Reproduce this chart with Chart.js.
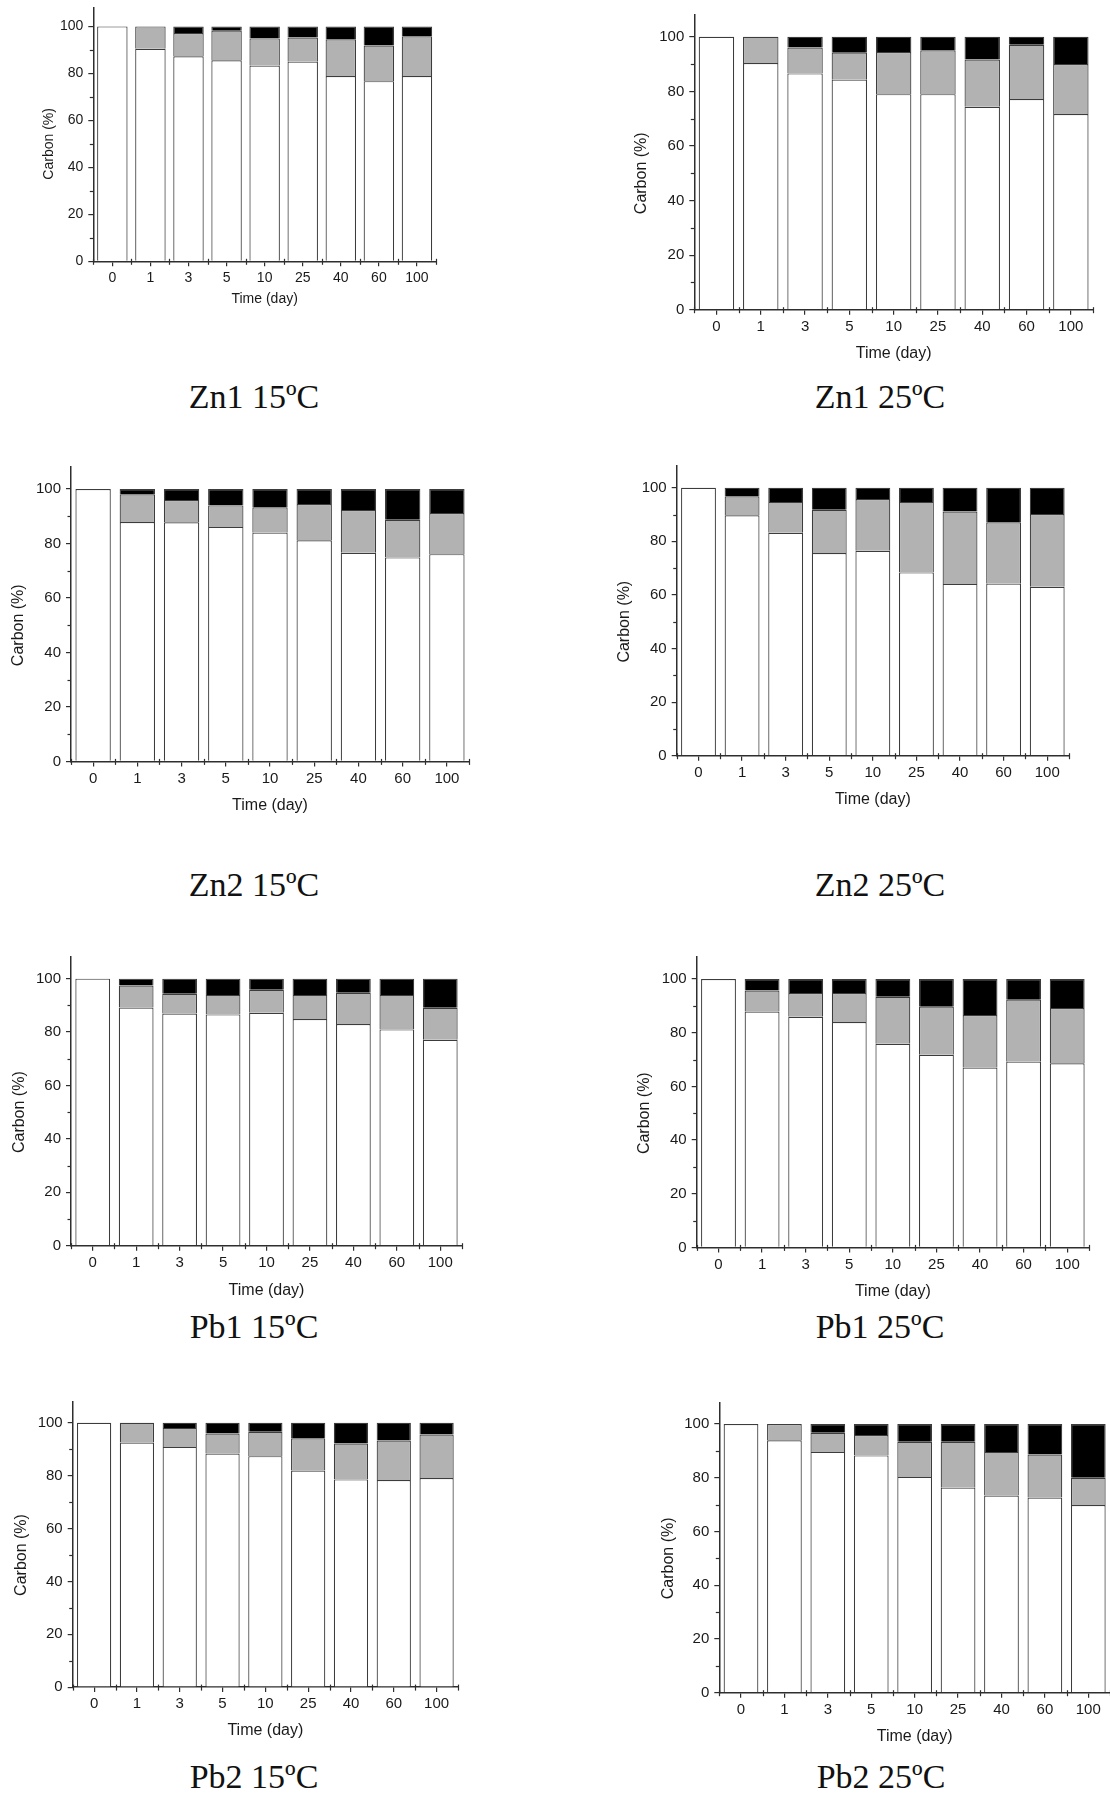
<!DOCTYPE html>
<html><head><meta charset="utf-8">
<script src="https://cdn.jsdelivr.net/npm/chart.js@4.4.1/dist/chart.umd.min.js"></script>
<style>
html,body{margin:0;padding:0;background:#fff;width:1110px;height:1796px;overflow:hidden;position:relative}
canvas{position:absolute}
.ttl{position:absolute;font-family:'Liberation Serif','Times New Roman',serif;font-size:34px;line-height:40px;color:#111;white-space:nowrap;transform:translateX(-50%)}
</style></head><body>
<script>
// ---------- data ----------
const days = ['0','1','3','5','10','25','40','60','100'];
const yTickLabels = [0,20,40,60,80,100];

const zn1_15_white = [100, 90.5, 87.3, 85.6, 83.3, 85.0, 78.9, 76.7, 78.9];
const zn1_15_gray  = [0, 9.5, 9.9, 12.6, 11.6, 10.3, 15.6, 15.2, 16.9];
const zn1_15_black = [0, 0, 2.8, 1.8, 5.1, 4.7, 5.5, 8.1, 4.2];

const zn1_25_white = [100, 90.4, 86.6, 84.3, 79.0, 79.0, 74.4, 77.2, 71.7];
const zn1_25_gray  = [0, 9.6, 9.5, 9.9, 15.4, 16.1, 17.3, 19.9, 18.3];
const zn1_25_black = [0, 0, 3.9, 5.8, 5.6, 4.9, 8.3, 2.9, 10.0];

const zn2_15_white = [100, 87.9, 87.8, 86.1, 84.0, 81.2, 76.6, 74.9, 76.1];
const zn2_15_gray  = [0, 10.2, 8.2, 7.9, 9.3, 13.3, 15.7, 13.8, 15.1];
const zn2_15_black = [0, 1.9, 4.0, 6.0, 6.7, 5.5, 7.7, 11.3, 8.8];

const zn2_25_white = [100, 89.7, 83.2, 75.6, 76.5, 68.4, 64.1, 64.2, 63.0];
const zn2_25_gray  = [0, 7.1, 11.5, 16.2, 19.3, 26.3, 27.0, 22.9, 27.2];
const zn2_25_black = [0, 3.2, 5.3, 8.2, 4.2, 5.3, 8.9, 12.9, 9.8];

const pb1_15_white = [100, 89.2, 86.9, 86.6, 87.2, 84.9, 83.0, 81.0, 77.1];
const pb1_15_gray  = [0, 8.2, 7.4, 7.3, 8.6, 9.0, 11.7, 12.9, 12.0];
const pb1_15_black = [0, 2.6, 5.7, 6.1, 4.2, 6.1, 5.3, 6.1, 10.9];

const pb1_25_white = [100, 87.9, 85.9, 84.0, 75.9, 71.8, 67.0, 69.2, 68.6];
const pb1_25_gray  = [0, 7.8, 8.9, 10.8, 17.5, 17.9, 19.6, 23.1, 20.6];
const pb1_25_black = [0, 4.3, 5.2, 5.2, 6.6, 10.3, 13.4, 7.7, 10.8];

const pb2_15_white = [100, 92.6, 90.9, 88.4, 87.4, 82.0, 78.6, 78.4, 79.1];
const pb2_15_gray  = [0, 7.4, 7.2, 7.6, 9.2, 12.2, 13.6, 14.9, 16.5];
const pb2_15_black = [0, 0, 1.9, 4.0, 3.4, 5.8, 7.8, 6.7, 4.4];

const pb2_25_white = [100, 93.9, 89.6, 88.3, 80.3, 76.3, 73.4, 72.6, 69.8];
const pb2_25_gray  = [0, 6.1, 7.1, 7.6, 13.1, 17.1, 16.2, 16.0, 10.2];
const pb2_25_black = [0, 0, 3.3, 4.1, 6.6, 6.6, 10.4, 11.4, 20.0];

const panelTitles = ['Zn1 15ºC','Zn1 25ºC','Zn2 15ºC','Zn2 25ºC','Pb1 15ºC','Pb1 25ºC','Pb2 15ºC','Pb2 25ºC'];

// ---------- layout (positions / sizes only) ----------
const panels = [
 {w:zn1_15_white,g:zn1_15_gray,b:zn1_15_black,yMax:108.1,L:93.3,R:435.7,T:6,B:260.7,cx:49,ty:299,tf:14,af:14,tx:254,tc:397},
 {w:zn1_25_white,g:zn1_25_gray,b:zn1_25_black,yMax:108.0,L:694.3,R:1092.7,T:13,B:309.3,cx:642,ty:353,tf:15,af:16,tx:880,tc:397},
 {w:zn2_15_white,g:zn2_15_gray,b:zn2_15_black,yMax:108.1,L:71,R:468.3,T:465,B:761,cx:19,ty:805,tf:15,af:16,tx:254,tc:885},
 {w:zn2_25_white,g:zn2_25_gray,b:zn2_25_black,yMax:108.1,L:676.7,R:1068.3,T:464.3,B:755.3,cx:625,ty:799,tf:15,af:16,tx:880,tc:885},
 {w:pb1_15_white,g:pb1_15_gray,b:pb1_15_black,yMax:108.1,L:71,R:461.7,T:955.7,B:1245.3,cx:19.5,ty:1290,tf:15,af:16,tx:254,tc:1327},
 {w:pb1_25_white,g:pb1_25_gray,b:pb1_25_black,yMax:108.2,L:696.7,R:1088.3,T:955.7,B:1247,cx:644.3,ty:1291,tf:15,af:16,tx:880,tc:1327},
 {w:pb2_15_white,g:pb2_15_gray,b:pb2_15_black,yMax:107.9,L:72.7,R:457.3,T:1400.7,B:1686.7,cx:22,ty:1730,tf:15,af:16,tx:254,tc:1777},
 {w:pb2_25_white,g:pb2_25_gray,b:pb2_25_black,yMax:107.8,L:719.3,R:1109.5,T:1401.7,B:1692.3,cx:668.5,ty:1736,tf:15,af:16,tx:881,tc:1777}
];

const AX = '#2e2e2e';
const FONT = "'Liberation Sans', Arial, sans-serif";
Chart.defaults.font.family = FONT;
Chart.defaults.color = '#1a1a1a';

const extras = {
  id: 'extras',
  afterDraw(chart, args, opts) {
    const ctx = chart.ctx, x = chart.scales.x, y = chart.scales.y;
    const area = chart.chartArea;
    ctx.save();
    ctx.strokeStyle = AX; ctx.lineWidth = 1.2;
    // minor y ticks
    for (let v = 10; v < 100; v += 20) {
      const py = Math.round(y.getPixelForValue(v)) + 0.5;
      ctx.beginPath(); ctx.moveTo(area.left - 3.5, py); ctx.lineTo(area.left, py); ctx.stroke();
    }
    // category boundary ticks on x axis
    const step = x.getPixelForValue(1) - x.getPixelForValue(0);
    for (let i = 0; i <= days.length; i++) {
      const px = Math.round(x.getPixelForValue(i) - step / 2) + 0.5;
      ctx.beginPath(); ctx.moveTo(px, area.bottom - 2.5); ctx.lineTo(px, area.bottom + 3.5); ctx.stroke();
    }
    // y axis title centred on the 0-100 range
    const midY = (y.getPixelForValue(0) + y.getPixelForValue(100)) / 2;
    ctx.translate(opts.cx, midY);
    ctx.rotate(-Math.PI / 2);
    ctx.fillStyle = '#1a1a1a';
    ctx.font = opts.af + 'px ' + FONT;
    ctx.textAlign = 'center'; ctx.textBaseline = 'middle';
    ctx.fillText('Carbon (%)', 0, 0);
    ctx.restore();
  }
};

const nz = arr => arr.map(v => v === 0 ? null : v);

panels.forEach((p, idx) => {
  const lh = p.af * 1.2;
  const left = Math.floor(p.cx - 14);
  const top = Math.floor(p.T - 12);
  const bottom = p.ty + lh / 2;
  const width = Math.ceil(p.R + 12 - left);
  const height = Math.ceil(bottom - top);
  const yW = p.L - left;
  const xH = bottom - p.B;
  const cv = document.createElement('canvas');
  cv.width = width; cv.height = height;
  cv.style.left = left + 'px'; cv.style.top = top + 'px';
  cv.style.width = width + 'px'; cv.style.height = height + 'px';
  document.body.appendChild(cv);

  const t = document.createElement('div');
  t.className = 'ttl';
  t.textContent = panelTitles[idx];
  t.style.left = p.tx + 'px';
  t.style.top = (p.tc - 20) + 'px';
  document.body.appendChild(t);

  const common = {stack: 's', borderColor: '#3c3c3c', borderWidth: 1.2, borderSkipped: 'start',
                  barPercentage: 0.8, categoryPercentage: 1.0};
  new Chart(cv, {
    type: 'bar',
    data: {
      labels: days,
      datasets: [
        Object.assign({label: 'a', data: nz(p.w), backgroundColor: '#ffffff'}, common),
        Object.assign({label: 'b', data: nz(p.g), backgroundColor: '#b2b2b2'}, common),
        Object.assign({label: 'c', data: nz(p.b), backgroundColor: '#000000'}, common)
      ]
    },
    options: {
      responsive: false, animation: false, devicePixelRatio: 1, events: [],
      layout: {padding: {left: 0, top: p.T - top, right: 12, bottom: 0}},
      plugins: {legend: {display: false}, tooltip: {enabled: false}, extras: {cx: p.cx - left, af: p.af}},
      scales: {
        x: {
          stacked: true,
          offset: true,
          afterFit: s => { s.height = xH; },
          grid: {offset: false, drawOnChartArea: false, drawTicks: true, tickLength: 5, color: AX, lineWidth: 1.2},
          border: {display: true, color: AX, width: 1.5},
          ticks: {font: {size: p.tf}, padding: 3, maxRotation: 0, autoSkip: false, color: '#1a1a1a'},
          title: {display: true, text: 'Time (day)', font: {size: p.af}, padding: {top: 0, bottom: 0}, color: '#1a1a1a'}
        },
        y: {
          stacked: true,
          min: 0, max: p.yMax,
          afterFit: s => { s.width = yW; },
          afterBuildTicks: s => { s.ticks = yTickLabels.map(v => ({value: v})); },
          grid: {drawOnChartArea: false, drawTicks: true, tickLength: 5, color: AX, lineWidth: 1.2},
          border: {display: true, color: AX, width: 1.5},
          ticks: {font: {size: p.tf}, padding: 5, color: '#1a1a1a', autoSkip: false},
          title: {display: false}
        }
      }
    },
    plugins: [extras]
  });
});
</script>
</body></html>
